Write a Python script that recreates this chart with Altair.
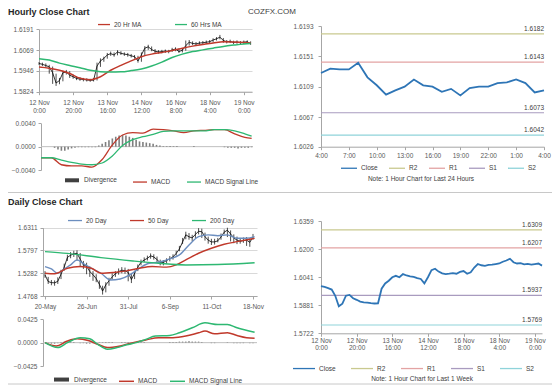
import altair as alt
import pandas as pd

FONT = "Liberation Sans"
W, H = 544, 378
LBL = "#595959"
AX = "#a6a6a6"
GRID = "#d9d9d9"
RED = "#c0392b"
GREEN = "#2eb872"
BLUE = "#2e75b6"

# ---------------- data ----------------
hour_ticks = ["12 Nov|0:00", "12 Nov|20:00", "13 Nov|16:00", "14 Nov|12:00",
              "16 Nov|8:00", "18 Nov|4:00", "19 Nov|0:00"]
hourly_close = [1.5990, 1.5985, 1.5978, 1.5970, 1.5935, 1.5875, 1.5890, 1.5935, 1.5940, 1.5921,
                1.5912, 1.5902, 1.5898, 1.5896, 1.5893, 1.5891, 1.5892, 1.5975, 1.6005, 1.6020,
                1.6040, 1.6048, 1.6040, 1.6058, 1.6050, 1.6045, 1.6042, 1.6035, 1.6030, 1.6005,
                1.6040, 1.6080, 1.6088, 1.6072, 1.6062, 1.6058, 1.6060, 1.6063, 1.6060, 1.6070,
                1.6075, 1.6060, 1.6068, 1.6095, 1.6115, 1.6108, 1.6105, 1.6110, 1.6112, 1.6115,
                1.6118, 1.6128, 1.6135, 1.6145, 1.6125, 1.6118, 1.6120, 1.6113, 1.6116, 1.6112,
                1.6115, 1.6118, 1.6106]
hourly_high = [1.5998, 1.5995, 1.5990, 1.5982, 1.5972, 1.5930, 1.5905, 1.5948, 1.5952, 1.5945,
               1.5925, 1.5915, 1.5910, 1.5905, 1.5903, 1.5900, 1.5905, 1.5995, 1.6020, 1.6030,
               1.6052, 1.6060, 1.6055, 1.6068, 1.6062, 1.6055, 1.6052, 1.6046, 1.6040, 1.6035,
               1.6055, 1.6092, 1.6100, 1.6090, 1.6075, 1.6068, 1.6070, 1.6072, 1.6070, 1.6082,
               1.6085, 1.6078, 1.6080, 1.6125, 1.6128, 1.6120, 1.6116, 1.6120, 1.6122, 1.6125,
               1.6128, 1.6138, 1.6145, 1.6158, 1.6140, 1.6128, 1.6130, 1.6124, 1.6126, 1.6122,
               1.6125, 1.6126, 1.6120]
hourly_low = [1.5982, 1.5975, 1.5968, 1.5930, 1.5870, 1.5858, 1.5868, 1.5885, 1.5925, 1.5905,
              1.5900, 1.5892, 1.5888, 1.5885, 1.5884, 1.5882, 1.5884, 1.5890, 1.5970, 1.6000,
              1.6018, 1.6035, 1.6030, 1.6038, 1.6040, 1.6035, 1.6030, 1.6025, 1.6018, 1.5995,
              1.6000, 1.6035, 1.6070, 1.6062, 1.6052, 1.6048, 1.6050, 1.6052, 1.6050, 1.6058,
              1.6062, 1.6052, 1.6055, 1.6065, 1.6095, 1.6098, 1.6095, 1.6100, 1.6102, 1.6105,
              1.6108, 1.6115, 1.6125, 1.6132, 1.6112, 1.6108, 1.6110, 1.6104, 1.6106, 1.6102,
              1.6105, 1.6108, 1.6100]
hour_ma_idx = [0, 3, 6, 9, 12, 15, 18, 21, 24, 27, 30, 33, 36, 39, 42, 45, 48, 51, 54, 57, 60, 62]
ma20_hr = [1.5969, 1.5962, 1.5950, 1.5931, 1.5903, 1.5895, 1.5912, 1.5950, 1.5979, 1.6005, 1.6030,
           1.6045, 1.6055, 1.6066, 1.6080, 1.6092, 1.6102, 1.6110, 1.6118, 1.6116, 1.6113, 1.6110]
ma60_hr = [1.6018, 1.6010, 1.5992, 1.5978, 1.5965, 1.5950, 1.5942, 1.5940, 1.5941, 1.5948, 1.5958,
           1.5975, 1.5998, 1.6025, 1.6045, 1.6060, 1.6070, 1.6080, 1.6090, 1.6098, 1.6105, 1.6108]
hour_macd = [-0.0019, -0.0019, -0.0031, -0.0033, -0.0033, -0.0035, -0.0022, 0.0003, 0.0020, 0.0024,
             0.0023, 0.0030, 0.0029, 0.0027, 0.0024, 0.0027, 0.0028, 0.0029, 0.0029, 0.0022,
             0.0016, 0.0014]
hour_signal = [-0.0019, -0.0019, -0.0023, -0.0027, -0.0030, -0.0031, -0.0028, -0.0016, 0.0002, 0.0012,
               0.0017, 0.0021, 0.0026, 0.0027, 0.0027, 0.0027, 0.0027, 0.0029, 0.0029, 0.0027,
               0.0022, 0.0018]
hour_divergence = [0, 0, 0, 0, -0.0002, -0.0005, -0.0007, -0.0007, -0.0005, -0.0003, -0.0002,
                   -0.0001, -0.0001, -0.0001, -0.0001, -0.0001, -0.0001,
                   0.0002, 0.0005, 0.0008, 0.0011, 0.0014, 0.0017, 0.0019, 0.0020, 0.0019, 0.0017,
                   0.0015, 0.0012, 0.0009, 0.0008, 0.0007, 0.0006, 0.0005, 0.0003, 0.0002, 0.0001,
                   0.0001, 0.0001, 0.0001, 0.0001,
                   0, 0, 0, 0, 0.0001, 0, 0, 0, 0, 0, 0, 0, 0, -0.0001, -0.0002, -0.0002, -0.0002,
                   -0.0003, -0.0002, -0.0002, -0.0002, -0.0001]

ticks_24h = ["4:00", "7:00", "10:00", "13:00", "16:00", "19:00", "22:00", "1:00", "4:00"]
close_24h = [1.6128, 1.6134, 1.6133, 1.6133, 1.6142, 1.6122, 1.6111, 1.6098, 1.6104, 1.6109,
             1.6119, 1.6111, 1.6109, 1.6102, 1.6106, 1.6097, 1.6107, 1.6109, 1.6109, 1.6114,
             1.6115, 1.6119, 1.6114, 1.6101, 1.6104]
level_names = ["R2", "R1", "S1", "S2"]
levels_24h = [1.6182, 1.6143, 1.6073, 1.6042]
levels_week = [1.6309, 1.6207, 1.5937, 1.5769]

day_ticks = ["20-May", "26-Jun", "31-Jul", "6-Sep", "11-Oct", "18-Nov"]
daily_close = [1.5244, 1.5095, 1.5070, 1.5065, 1.5100, 1.5260, 1.5420, 1.5640, 1.5690, 1.5720,
               1.5734, 1.5600, 1.5470, 1.5445, 1.5320, 1.5250, 1.5160, 1.5030, 1.4880, 1.5020,
               1.5110, 1.5200, 1.5270, 1.5320, 1.5350, 1.5340, 1.5300, 1.5140, 1.5280, 1.5420,
               1.5530, 1.5580, 1.5620, 1.5675, 1.5650, 1.5590, 1.5520, 1.5525, 1.5570, 1.5610,
               1.5650, 1.5730, 1.5830, 1.5990, 1.6150, 1.6105, 1.6080, 1.6160, 1.6230, 1.6220,
               1.6109, 1.6030, 1.5990, 1.5990, 1.6015, 1.6100, 1.6210, 1.6255, 1.6170, 1.6080,
               1.6030, 1.6005, 1.6020, 1.6030, 1.5980, 1.6100]
daily_high = [1.5330, 1.5200, 1.5130, 1.5120, 1.5190, 1.5360, 1.5500, 1.5700, 1.5760, 1.5790,
              1.5800, 1.5740, 1.5560, 1.5520, 1.5440, 1.5330, 1.5260, 1.5120, 1.5000, 1.5080,
              1.5180, 1.5280, 1.5330, 1.5390, 1.5420, 1.5410, 1.5380, 1.5290, 1.5340, 1.5480,
              1.5590, 1.5640, 1.5680, 1.5730, 1.5710, 1.5660, 1.5590, 1.5580, 1.5620, 1.5670,
              1.5710, 1.5790, 1.5900, 1.6080, 1.6220, 1.6190, 1.6150, 1.6230, 1.6300, 1.6290,
              1.6200, 1.6110, 1.6060, 1.6060, 1.6080, 1.6180, 1.6270, 1.6310, 1.6250, 1.6160,
              1.6110, 1.6080, 1.6090, 1.6100, 1.6070, 1.6170]
daily_low = [1.5180, 1.5040, 1.5010, 1.5000, 1.5040, 1.5150, 1.5340, 1.5560, 1.5620, 1.5650,
             1.5560, 1.5420, 1.5380, 1.5260, 1.5200, 1.5110, 1.5080, 1.4930, 1.4800, 1.4850,
             1.5000, 1.5140, 1.5200, 1.5250, 1.5280, 1.5270, 1.5100, 1.5060, 1.5150, 1.5330,
             1.5460, 1.5530, 1.5570, 1.5610, 1.5590, 1.5520, 1.5460, 1.5460, 1.5500, 1.5550,
             1.5590, 1.5680, 1.5780, 1.5940, 1.6050, 1.6040, 1.6010, 1.6080, 1.6160, 1.6080,
             1.6020, 1.5950, 1.5920, 1.5930, 1.5980, 1.6040, 1.6170, 1.6100, 1.6000, 1.5960,
             1.5940, 1.5950, 1.5970, 1.5900, 1.5880, 1.6040]
ma20_day_idx = [0, 4, 8, 12, 16, 20, 24, 29, 35, 41, 47, 53, 59, 65, 71, 78, 84, 90, 96, 102,
                108, 114, 120, 126, 131]
ma20_day = [1.5433, 1.5380, 1.5282, 1.5380, 1.5470, 1.5583, 1.5500, 1.5395, 1.5282, 1.5131,
            1.5153, 1.5244, 1.5395, 1.5508, 1.5530, 1.5605, 1.5696, 1.5922, 1.6109, 1.6148,
            1.6130, 1.6148, 1.6072, 1.6072, 1.6110]
ma50_day_idx = [0, 6, 14, 22, 29, 35, 43, 51, 59, 67, 76, 82, 88, 96, 104, 112, 120, 129, 131]
ma50_day = [1.5282, 1.5270, 1.5395, 1.5433, 1.5395, 1.5282, 1.5300, 1.5335, 1.5395, 1.5433,
            1.5420, 1.5470, 1.5583, 1.5734, 1.5847, 1.5937, 1.5996, 1.6057, 1.6070]
ma200_day_idx = [0, 14, 35, 55, 71, 88, 108, 131]
ma200_day = [1.5770, 1.5730, 1.5635, 1.5560, 1.5508, 1.5470, 1.5480, 1.5520]
dmacd_idx = [0, 7, 14, 20, 27, 33, 39, 47, 55, 63, 71, 80, 88, 96, 100, 106, 114, 120, 126, 131]
dmacd = [0, -0.006, 0.003, 0.007, 0.004, -0.003, -0.009, -0.006, 0, 0.005, 0.009, 0.009, 0.012,
         0.018, 0.021, 0.016, 0.018, 0.013, 0.009, 0.008]
dsig_idx = [0, 8, 14, 22, 28, 33, 39, 45, 51, 57, 63, 69, 78, 84, 92, 100, 108, 114, 120, 131]
dsig = [0, -0.009, 0, 0.009, 0.007, -0.003, -0.012, -0.009, -0.004, 0, 0.006, 0.012, 0.013,
        0.018, 0.027, 0.036, 0.033, 0.033, 0.027, 0.019]
daily_divergence = [0, -0.001, -0.002, -0.002, -0.001, 0.001, 0.002, 0.002, 0.002, 0.001,
                    0, -0.001, -0.001, -0.002, -0.002, -0.001, 0, 0.001, 0.001, 0.001,
                    0.001, 0.001, 0, 0, 0.001, 0.001, 0.001, 0, 0.001, 0.001,
                    0.001, 0.001, 0, 0, 0, 0, 0, 0, 0, 0.001,
                    0.001, 0.001, 0.002, 0.002, 0.002, 0.003, 0.002, 0.002, 0.002, 0.001,
                    0, 0, -0.001, -0.001, 0, 0, 0, 0.001, 0, -0.001,
                    -0.001, -0.001, -0.001, 0, -0.001, -0.001]


# ---------------- helpers ----------------
def yaxis(xpos, values, grid=False, pad=3):
    return alt.Axis(orient="left", offset=-xpos, values=values, format=".4f", title=None,
                    grid=grid, gridColor=GRID, gridWidth=1, domainColor=AX, tickColor=AX,
                    tickSize=3, labelFontSize=6.5, labelFont=FONT, labelColor=LBL,
                    labelPadding=pad, labelOverlap=False, labelFlush=False)


def xaxis(ypos, values, expr, pad=3):
    return alt.Axis(orient="bottom", offset=ypos - H, values=values, labelExpr=expr, title=None,
                    grid=False, domainColor=AX, tickColor=AX, tickSize=3, labelFontSize=6.5,
                    labelFont=FONT, labelColor=LBL, labelPadding=pad, labelLineHeight=7.5,
                    labelAngle=0, labelOverlap=False, labelFlush=False)


def tick_expr(labels, step):
    arr = "[" + ",".join("'" + s + "'" for s in labels) + "]"
    return "split(" + arr + "[round(datum.value/" + str(step) + ")], '|')"


def legend(x, y_center, sym, pad):
    # legendY is the top of the entries; the stroke symbol is sym px tall
    return alt.Legend(orient="none", legendX=x, legendY=y_center - sym / 2.0,
                      direction="horizontal", title=None,
                      symbolType="stroke", symbolSize=sym * sym, symbolStrokeWidth=1.3,
                      labelFontSize=6.5, labelFont=FONT, labelColor="#404040", labelOffset=3,
                      columnPadding=pad, padding=0)


def sc(domain, rng):
    return alt.Scale(domain=domain, range=rng, nice=False, zero=False)


def long_df(idx_lists, val_lists, names):
    rows = []
    for idx, vals, n in zip(idx_lists, val_lists, names):
        for i, v in zip(idx, vals):
            rows.append({"i": i, "v": v, "s": n})
    return pd.DataFrame(rows)


def text(t, x, y, size, weight="normal", color="#262626", align="left", baseline="middle"):
    return alt.Chart(pd.DataFrame({"t": [t]})).mark_text(
        align=align, baseline=baseline, font=FONT, fontSize=size, fontWeight=weight, color=color
    ).encode(x=alt.value(x), y=alt.value(y), text="t:N")


# ---------------- hourly price (top-left) ----------------
h_idx = list(range(len(hourly_close)))
df_h = pd.DataFrame({"i": h_idx, "c": hourly_close, "hi": hourly_high, "lo": hourly_low})
tl_xs = sc([0, 62.4], [31, 244])
tl_ys = sc([1.5824, 1.6191], [83.7, 21.3])
tl_xa = xaxis(83.7, [0, 10, 20, 30, 40, 50, 60], tick_expr(hour_ticks, 10), pad=5)
tl_ya = yaxis(31, [1.5824, 1.5946, 1.6069, 1.6191], grid=True)
tl_wick = alt.Chart(df_h).mark_rule(color="black", strokeWidth=0.7).encode(
    x=alt.X("i:Q", scale=tl_xs, axis=tl_xa), y=alt.Y("lo:Q", scale=tl_ys, axis=tl_ya), y2="hi:Q")
tl_close = alt.Chart(df_h).mark_line(color="black", strokeWidth=0.8).encode(
    x=alt.X("i:Q", scale=tl_xs, axis=tl_xa), y=alt.Y("c:Q", scale=tl_ys, axis=tl_ya))
df_hma = long_df([hour_ma_idx, hour_ma_idx], [ma20_hr, ma60_hr], ["20 Hr MA", "60 Hrs MA"])
tl_ma = alt.Chart(df_hma).mark_line(strokeWidth=1.5, interpolate="monotone").encode(
    x=alt.X("i:Q", scale=tl_xs, axis=tl_xa), y=alt.Y("v:Q", scale=tl_ys, axis=tl_ya),
    color=alt.Color("s:N", scale=alt.Scale(domain=["20 Hr MA", "60 Hrs MA"], range=[RED, GREEN]),
                    legend=legend(89, 15.3, 12, 30)))
tl_price = alt.layer(tl_wick, tl_close, tl_ma)

# ---------------- hourly MACD ----------------
macd_dom = ["Divergence", "MACD", "MACD Signal Line"]
tm_xs = sc([0, 62.4], [33, 245])
tm_ys = sc([-0.004, 0.004], [162, 115.3])
tm_ya = yaxis(33, [-0.004, 0, 0.004])
df_hd = pd.DataFrame({"i": h_idx, "d": hour_divergence, "z": [0] * len(h_idx)})
tm_zero = alt.Chart(pd.DataFrame({"a": [0], "b": [62.4], "z": [0]})).mark_rule(
    color="#bfbfbf", strokeWidth=1).encode(
    x=alt.X("a:Q", scale=tm_xs, axis=None), x2="b:Q", y=alt.Y("z:Q", scale=tm_ys, axis=tm_ya))
tm_div = alt.Chart(df_hd).mark_rule(color="#7f7f7f", strokeWidth=1.6).encode(
    x=alt.X("i:Q", scale=tm_xs, axis=None), y=alt.Y("d:Q", scale=tm_ys, axis=tm_ya), y2="z:Q")
df_hm = long_df([hour_ma_idx, hour_ma_idx], [hour_macd, hour_signal], ["MACD", "MACD Signal Line"])
tm_leg = legend(55, 170.3, 14, 13)
tm_lines = alt.Chart(df_hm).mark_line(interpolate="monotone").encode(
    x=alt.X("i:Q", scale=tm_xs, axis=None), y=alt.Y("v:Q", scale=tm_ys, axis=tm_ya),
    color=alt.Color("s:N", scale=alt.Scale(type="ordinal", domain=macd_dom,
                                           range=["#404040", RED, GREEN]), legend=tm_leg),
    strokeWidth=alt.StrokeWidth("s:N", scale=alt.Scale(type="ordinal", domain=macd_dom,
                                                       range=[4, 1.3, 1.3]), legend=tm_leg))
tl_macd = alt.layer(tm_zero, tm_div, tm_lines)


# ---------------- pivot panels (right) ----------------
def pivot_panel(idx, closes, levels, xs, ys, xa, ya, xmax, leg):
    dom = ["Close"] + level_names
    cscale = alt.Scale(domain=dom, range=[BLUE, "#c9c98f", "#e3a3a3", "#a99bbf", "#8fd3da"])
    df_c = pd.DataFrame({"i": idx, "v": closes, "s": ["Close"] * len(idx)})
    df_l = pd.DataFrame({"a": [0] * 4, "b": [xmax] * 4, "v": levels, "s": level_names,
                         "t": ["%.4f" % v for v in levels]})
    rules = alt.Chart(df_l).mark_rule(strokeWidth=1.2).encode(
        x=alt.X("a:Q", scale=xs, axis=xa), x2="b:Q", y=alt.Y("v:Q", scale=ys, axis=ya),
        color=alt.Color("s:N", scale=cscale, legend=leg))
    labels = alt.Chart(df_l).mark_text(align="right", baseline="bottom", dy=-2, font=FONT,
                                       fontSize=6.5, color="#404040").encode(
        x=alt.X("b:Q", scale=xs, axis=xa), y=alt.Y("v:Q", scale=ys, axis=ya), text="t:N")
    line = alt.Chart(df_c).mark_line(strokeWidth=1.8).encode(
        x=alt.X("i:Q", scale=xs, axis=xa), y=alt.Y("v:Q", scale=ys, axis=ya),
        color=alt.Color("s:N", scale=cscale, legend=leg))
    return alt.layer(rules, labels, line)


tr_xs = sc([0, 24], [313, 536])
tr_ys = sc([1.6026, 1.6193], [138.7, 18])
tr = pivot_panel(list(range(len(close_24h))), close_24h, levels_24h, tr_xs, tr_ys,
                 xaxis(138.7, [0, 3, 6, 9, 12, 15, 18, 21, 24], tick_expr(ticks_24h, 3), pad=3),
                 yaxis(313, [1.6026, 1.6067, 1.6109, 1.6151, 1.6193], pad=5),
                 24, legend(332, 159, 16, 8))

br_xs = sc([0, 62], [313, 534])
br_ys = sc([1.5722, 1.6359], [325.3, 213])
br = pivot_panel(h_idx, hourly_close, levels_week, br_xs, br_ys,
                 xaxis(325.3, [0, 10, 20, 30, 40, 50, 60], tick_expr(hour_ticks, 10), pad=1),
                 yaxis(313, [1.5722, 1.5881, 1.6041, 1.6200, 1.6359], pad=5),
                 62, legend(284, 359.3, 22, 12))

# ---------------- daily price (bottom-left) ----------------
d_idx = [2 * k for k in range(len(daily_close))]
df_d = pd.DataFrame({"i": d_idx, "c": daily_close, "hi": daily_high, "lo": daily_low})
bl_xs = sc([-1.25, 132.5], [35, 249])
bl_ys = sc([1.4768, 1.6311], [288, 219.7])
bl_xa = xaxis(288, [0, 26, 52, 78, 104, 130], tick_expr(day_ticks, 26), pad=4)
bl_ya = yaxis(35, [1.4768, 1.5282, 1.5797, 1.6311], grid=True)
bl_wick = alt.Chart(df_d).mark_rule(color="black", strokeWidth=0.7).encode(
    x=alt.X("i:Q", scale=bl_xs, axis=bl_xa), y=alt.Y("lo:Q", scale=bl_ys, axis=bl_ya), y2="hi:Q")
bl_close = alt.Chart(df_d).mark_line(color="black", strokeWidth=0.8).encode(
    x=alt.X("i:Q", scale=bl_xs, axis=bl_xa), y=alt.Y("c:Q", scale=bl_ys, axis=bl_ya))
df_dma = long_df([ma20_day_idx, ma50_day_idx, ma200_day_idx], [ma20_day, ma50_day, ma200_day],
                 ["20 Day", "50 Day", "200 Day"])
bl_ma = alt.Chart(df_dma).mark_line(strokeWidth=1.4, interpolate="monotone").encode(
    x=alt.X("i:Q", scale=bl_xs, axis=bl_xa), y=alt.Y("v:Q", scale=bl_ys, axis=bl_ya),
    color=alt.Color("s:N", scale=alt.Scale(domain=["20 Day", "50 Day", "200 Day"],
                                           range=["#6c8ebf", RED, GREEN]),
                    legend=legend(59, 211.3, 14, 20)))
bl_price = alt.layer(bl_wick, bl_close, bl_ma)

# ---------------- daily MACD ----------------
bm_xs = sc([-1.25, 132.5], [35, 249])
bm_ys = sc([-0.0425, 0.0425], [358, 311.3])
bm_ya = yaxis(35, [-0.0425, 0, 0.0425])
df_dd = pd.DataFrame({"i": d_idx, "d": daily_divergence, "z": [0] * len(d_idx)})
bm_zero = alt.Chart(pd.DataFrame({"a": [-1.25], "b": [132.5], "z": [0]})).mark_rule(
    color="#bfbfbf", strokeWidth=1).encode(
    x=alt.X("a:Q", scale=bm_xs, axis=None), x2="b:Q", y=alt.Y("z:Q", scale=bm_ys, axis=bm_ya))
bm_div = alt.Chart(df_dd).mark_rule(color="#909090", strokeWidth=1.4).encode(
    x=alt.X("i:Q", scale=bm_xs, axis=None), y=alt.Y("d:Q", scale=bm_ys, axis=bm_ya), y2="z:Q")
df_dm = long_df([dmacd_idx, dsig_idx], [dmacd, dsig], ["MACD", "MACD Signal Line"])
bm_leg = legend(44, 369.3, 15, 9)
bm_lines = alt.Chart(df_dm).mark_line(interpolate="monotone").encode(
    x=alt.X("i:Q", scale=bm_xs, axis=None), y=alt.Y("v:Q", scale=bm_ys, axis=bm_ya),
    color=alt.Color("s:N", scale=alt.Scale(type="ordinal", domain=macd_dom,
                                           range=["#404040", RED, GREEN]), legend=bm_leg),
    strokeWidth=alt.StrokeWidth("s:N", scale=alt.Scale(type="ordinal", domain=macd_dom,
                                                       range=[4, 1.5, 1.5]), legend=bm_leg))
bl_macd = alt.layer(bm_zero, bm_div, bm_lines)

# ---------------- decorations ----------------
sep_top = alt.Chart(pd.DataFrame({"k": [0]})).mark_rule(color="#c8c8c8", strokeWidth=1).encode(
    x=alt.value(0), x2=alt.value(W), y=alt.value(184.5))
sep_bot = alt.Chart(pd.DataFrame({"k": [0]})).mark_rule(color="#c8c8c8", strokeWidth=1).encode(
    x=alt.value(0), x2=alt.value(W), y=alt.value(376))
texts = [
    text("Hourly Close Chart", 0, 0, 9, "bold", baseline="top"),
    text("COZFX.COM", 240, 0, 8, color="#404040", baseline="top"),
    text("Daily Close Chart", 0, 194, 9, "bold"),
    text("Note: 1 Hour Chart for Last 24 Hours", 413, 171, 6.5, color="#404040", align="center"),
    text("Note: 1 Hour Chart for Last 1 Week", 414, 371, 6.5, color="#404040", align="center"),
]

chart = alt.layer(
    tl_price, tl_macd, tr, bl_price, bl_macd, br, sep_top, sep_bot, *texts
).resolve_scale(
    x="independent", y="independent", color="independent", strokeWidth="independent"
).resolve_axis(
    x="independent", y="independent"
).resolve_legend(
    color="independent", strokeWidth="independent"
).properties(
    width=W, height=H, padding=0, autosize=alt.AutoSizeParams(type="none")
).configure_view(stroke=None)

chart.save("out.html", embed_options={"renderer": "svg", "actions": False})
